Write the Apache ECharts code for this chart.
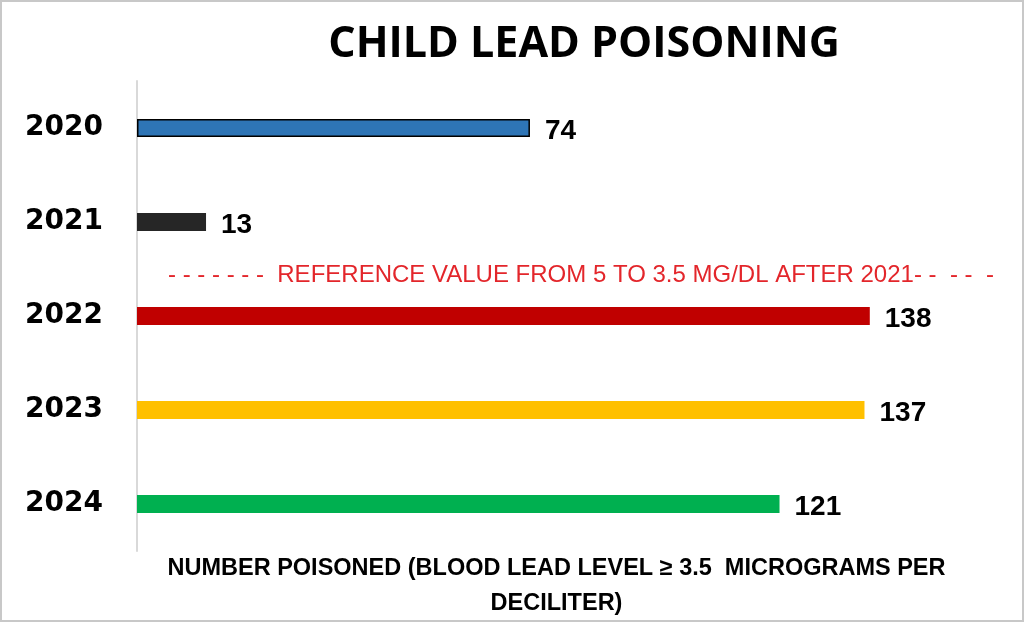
<!DOCTYPE html>
<html lang="en">
<head>
    <meta charset="UTF-8">
    <title>Child Lead Poisoning</title>
    <script src="https://cdnjs.cloudflare.com/ajax/libs/echarts/6.0.0/echarts.min.js"></script>
    <style>
        html, body { margin: 0; padding: 0; background: #fff; }
        #main {
            width: 1024px;
            height: 622px;
            box-sizing: border-box;
            border: 2px solid #c8c8c8;
        }
    </style>
</head>
<body>
    <div id="main"></div>
    <script>
        const years = ["2020", "2021", "2022", "2023", "2024"];
        const poisoned = [74, 13, 138, 137, 121];
        const barColors = ["#2e75b6", "#262626", "#c00000", "#ffc000", "#00b050"];
        const chartTitle = "CHILD LEAD POISONING";
        const axisTitle = "NUMBER POISONED (BLOOD LEAD LEVEL \u2265 3.5  MICROGRAMS PER\nDECILITER)";
        const refNote = "- - - - - - -  REFERENCE VALUE FROM 5 TO 3.5 MG/DL AFTER 2021- -  - -  -";

        const chart = echarts.init(document.getElementById('main'));

        const option = {
            animation: false,
            title: {
                text: chartTitle,
                left: 577,
                textAlign: 'center',
                top: 16,
                textStyle: {
                    fontFamily: 'Open Sans',
                    fontWeight: 'bold',
                    fontSize: 43,
                    color: '#000'
                }
            },
            graphic: [
                {
                    type: 'text',
                    left: 166,
                    top: 261,
                    style: {
                        text: refNote,
                        fill: '#e3262b',
                        font: '24px "Liberation Sans"'
                    }
                }
            ],
            grid: {
                left: 135,
                top: 79,
                width: 839,
                height: 470,
                outerBoundsMode: 'none',
                containLabel: false
            },
            xAxis: {
                type: 'value',
                min: 0,
                max: 158,
                splitLine: { show: false },
                axisLine: { show: false },
                axisTick: { show: false },
                axisLabel: { show: false },
                name: axisTitle,
                nameLocation: 'middle',
                nameGap: 0,
                nameTextStyle: {
                    fontFamily: 'Liberation Sans',
                    fontWeight: 'bold',
                    fontSize: 23.5,
                    color: '#000',
                    lineHeight: 35,
                    verticalAlign: 'top'
                }
            },
            yAxis: {
                type: 'category',
                data: years,
                inverse: true,
                axisLine: { show: true, lineStyle: { color: '#d9d9d9', width: 2 } },
                axisTick: { show: false },
                axisLabel: {
                    margin: 34,
                    fontFamily: 'DejaVu Sans',
                    fontWeight: 'bold',
                    fontSize: 28,
                    color: '#000'
                }
            },
            series: [
                {
                    type: 'bar',
                    barWidth: 18,
                    data: poisoned.map((v, i) => ({
                        value: v,
                        itemStyle: {
                            color: barColors[i],
                            borderColor: i === 0 ? '#000' : barColors[i],
                            borderWidth: i === 0 ? 1.5 : 0
                        }
                    })),
                    label: {
                        show: true,
                        position: 'right',
                        distance: 15,
                        fontFamily: 'Liberation Sans',
                        fontWeight: 'bold',
                        fontSize: 28,
                        color: '#000',
                        offset: [0, 3]
                    }
                }
            ]
        };

        chart.setOption(option);
    </script>
</body>
</html>
